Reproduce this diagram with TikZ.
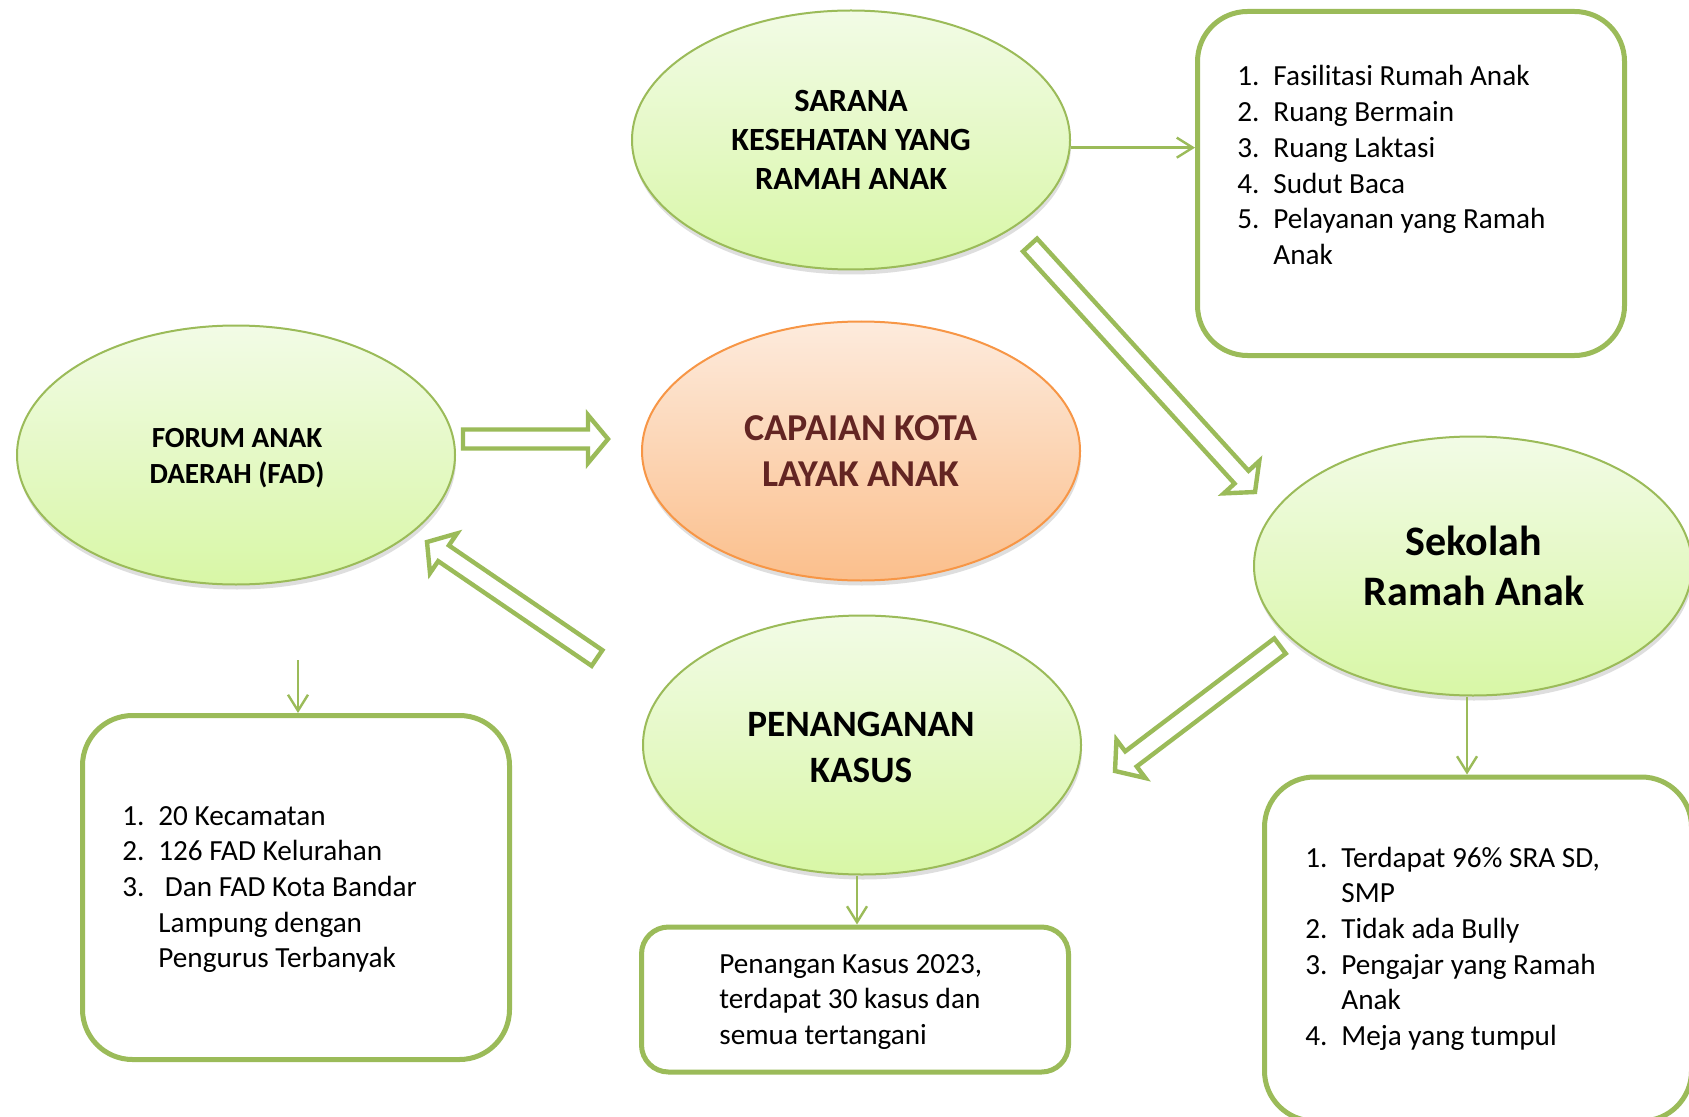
\documentclass[tikz,border=0pt]{standalone}
\usepackage{fontspec}
\setmainfont{Carlito}
\usetikzlibrary{shapes.geometric,shadows,calc,arrows.meta}
\definecolor{ellgreen}{HTML}{9BBB59}
\definecolor{boxgreen}{HTML}{9BBB59}
\definecolor{elltop}{HTML}{F2FBE6}
\definecolor{ellbot}{HTML}{D8F7A6}
\definecolor{orgline}{HTML}{F79646}
\definecolor{orgtop}{HTML}{FDEBDD}
\definecolor{orgbot}{HTML}{FBBF8C}
\definecolor{capred}{HTML}{632523}
\tikzset{
 ell/.style={ellipse, draw=ellgreen, line width=1pt, top color=elltop, bottom color=ellbot,
   minimum width=219pt, minimum height=129.5pt, inner sep=0pt,
   drop shadow={shadow xshift=0.5pt, shadow yshift=-2.5pt, opacity=0.18, fill=black!70}},
 ellorange/.style={ell, draw=orgline, top color=orgtop, bottom color=orgbot},
 infobox/.style={rectangle, rounded corners=25pt, draw=boxgreen, line width=2.5pt,
   minimum width=213.5pt, minimum height=172pt, inner sep=0pt, fill=white},
 conn/.style={draw=boxgreen, line width=1.2pt, -{Straight Barb[length=8pt,width=10pt]}},
 blockarrow/.style={draw=boxgreen, line width=2.2pt, fill=white, line join=miter},
 lbl/.style={inner sep=0pt, anchor=base, text=black},
 listtext/.style={inner sep=0pt, anchor=base west, text=black, font=\fontsize{14.6}{17.85}\selectfont}
}
\newcommand{\blkarrow}[3]{%
 \coordinate (#3hb) at ($(#2)!10pt!(#1)$);
 \draw[blockarrow] ($(#1)!4.75pt!90:(#2)$) -- ($(#3hb)!4.75pt!90:(#2)$) -- ($(#3hb)!12pt!90:(#2)$)
   -- (#2) -- ($(#3hb)!12pt!-90:(#2)$) -- ($(#3hb)!4.75pt!-90:(#2)$) -- ($(#1)!4.75pt!-90:(#2)$) -- cycle;}
\begin{document}
\begin{tikzpicture}[x=0.5pt,y=-0.5pt]
\useasboundingbox (0,0) rectangle (1689,1117);
\clip (0,0) rectangle (1689,1117);
\fill[white] (0,0) rectangle (1689,1117);

% ellipses
\node[ell] (sarana) at (851,140) {};
\node[ellorange] (capaian) at (861,451) {};
\node[ell] (fad) at (236,455) {};
\node[ell] (sekolah) at (1473,566) {};
\node[ell] (penanganan) at (862,745) {};

% ellipse labels
\node[lbl, font=\bfseries\fontsize{16.2}{19.5}\selectfont] (saranaT) at (851,112)
  {\begin{tabular}[t]{@{}c@{}}SARANA\\KESEHATAN YANG\\RAMAH ANAK\end{tabular}};
\node[lbl, text=capred, font=\bfseries\fontsize{19}{23}\selectfont] (capaianT) at (861,440)
  {\begin{tabular}[t]{@{}c@{}}CAPAIAN KOTA\\LAYAK ANAK\end{tabular}};
\node[lbl, font=\bfseries\fontsize{14.6}{18}\selectfont] (fadT) at (237,447)
  {\begin{tabular}[t]{@{}c@{}}FORUM ANAK\\DAERAH (FAD)\end{tabular}};
\node[lbl, font=\bfseries\fontsize{21}{25}\selectfont] (sekolahT) at (1474,555)
  {\begin{tabular}[t]{@{}c@{}}Sekolah\\Ramah Anak\end{tabular}};
\node[lbl, font=\bfseries\fontsize{18.6}{23}\selectfont] (penangananT) at (861,736)
  {\begin{tabular}[t]{@{}c@{}}PENANGANAN\\KASUS\end{tabular}};

% boxes
\node[infobox] (boxTR) at (1411,183.5) {};
\node[infobox] (boxBL) at (296,887.5) {};
\node[infobox, rounded corners=13.5pt, minimum height=72.5pt] (boxP) at (855,999.5) {};
\node[infobox] (boxBR) at (1478,949) {};

% box texts
\node[listtext] (listTR) at (1237,86)
  {\begin{tabular}[t]{@{}p{18pt}@{}l@{}}
  1. & Fasilitasi Rumah Anak\\
  2. & Ruang Bermain\\
  3. & Ruang Laktasi\\
  4. & Sudut Baca\\
  5. & Pelayanan yang Ramah\\
     & Anak
  \end{tabular}};
\node[listtext] (listBL) at (122,825)
  {\begin{tabular}[t]{@{}p{18pt}@{}l@{}}
  1. & 20 Kecamatan\\
  2. & 126 FAD Kelurahan\\
  3. & \hspace*{3.3pt}Dan FAD Kota Bandar\\
     & Lampung dengan\\
     & Pengurus Terbanyak
  \end{tabular}};
\node[listtext] (listP) at (719,973)
  {\begin{tabular}[t]{@{}l@{}}
  Penangan Kasus 2023,\\
  terdapat 30 kasus dan\\
  semua tertangani
  \end{tabular}};
\node[listtext] (listBR) at (1305,867)
  {\begin{tabular}[t]{@{}p{18pt}@{}l@{}}
  1. & Terdapat 96\% SRA SD,\\
     & SMP\\
  2. & Tidak ada Bully\\
  3. & Pengajar yang Ramah\\
     & Anak\\
  4. & Meja yang tumpul
  \end{tabular}};

% thin connectors
\coordinate (fadStart) at (298,660);
\coordinate (xP) at (857,0);
\coordinate (xS) at (1467,0);
\draw[conn] (sarana.-2) -- (sarana.-2 -| boxTR.west);
\draw[conn] (fadStart) -- (fadStart |- boxBL.north);
\draw[conn] (penanganan.south -| xP) -- (boxP.north -| xP);
\draw[conn] (sekolah.south -| xS) -- (boxBR.north -| xS);

% block arrows
\coordinate (a1t) at (463,439);   \coordinate (a1p) at (608,439);
\coordinate (a2t) at (1030,245);  \coordinate (a2p) at (1255,492);
\coordinate (a3t) at (1280,646);  \coordinate (a3p) at (1115,771);
\coordinate (a4t) at (597,658);   \coordinate (a4p) at (427,542);
\blkarrow{a1t}{a1p}{a1}
\blkarrow{a2t}{a2p}{a2}
\blkarrow{a3t}{a3p}{a3}
\blkarrow{a4t}{a4p}{a4}
\end{tikzpicture}
\end{document}
